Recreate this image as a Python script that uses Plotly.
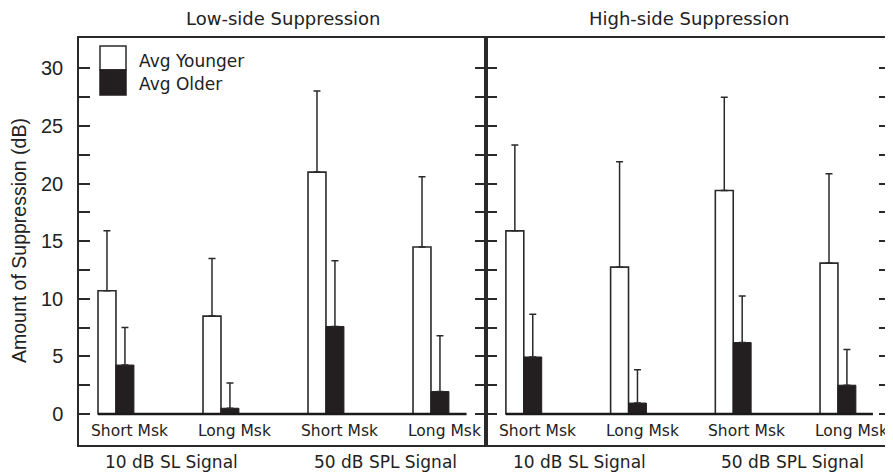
import plotly.graph_objects as go

# ---------------- data ----------------
conditions = ["Short Msk", "Long Msk", "Short Msk", "Long Msk"]
signals = ["10 dB SL Signal", "50 dB SPL Signal"]
panels = ["Low-side Suppression", "High-side Suppression"]
series_names = ["Avg Younger", "Avg Older"]

low_younger = [10.7, 8.5, 21.0, 14.5]
low_younger_err = [5.2, 5.0, 7.05, 6.1]
low_older = [4.25, 0.5, 7.6, 1.95]
low_older_err = [3.25, 2.2, 5.7, 4.85]

high_younger = [15.9, 12.75, 19.4, 13.1]
high_younger_err = [7.45, 9.15, 8.1, 7.75]
high_older = [4.95, 0.95, 6.2, 2.5]
high_older_err = [3.7, 2.9, 4.05, 3.1]

y_tick_vals = [0, 2.5, 5, 7.5, 10, 12.5, 15, 17.5, 20, 22.5, 25, 27.5, 30]
y_tick_text = ["0", "", "5", "", "10", "", "15", "", "20", "", "25", "", "30"]

# ---------------- figure ----------------
PAGE_OFF = 8              # page body margin in the browser
W, H = 893 - PAGE_OFF, 475 - PAGE_OFF
INK = "#2a2a2a"
BAR_W = 0.171

xpos = list(range(len(conditions)))

fig = go.Figure()

def add_panel(young, young_err, old, old_err, xa, ya):
    fig.add_trace(go.Bar(
        x=xpos, y=young, width=BAR_W, offset=0,
        marker=dict(color="white", line=dict(color=INK, width=1.6)),
        error_y=dict(type="data", array=young_err, arrayminus=[0] * 4,
                     symmetric=False, color=INK, thickness=1.5, width=3.5),
        xaxis=xa, yaxis=ya, showlegend=False, name=series_names[0]))
    fig.add_trace(go.Bar(
        x=xpos, y=old, width=BAR_W, offset=BAR_W,
        marker=dict(color="#231f20", line=dict(color="#231f20", width=1)),
        error_y=dict(type="data", array=old_err, arrayminus=[0] * 4,
                     symmetric=False, color=INK, thickness=1.5, width=3.5),
        xaxis=xa, yaxis=ya, showlegend=False, name=series_names[1]))

add_panel(low_younger, low_younger_err, low_older, low_older_err, "x", "y")
add_panel(high_younger, high_younger_err, high_older, high_older_err, "x2", "y2")

def px_x(p):
    return (p - PAGE_OFF) / W

def px_y(p):
    return 1 - (p - PAGE_OFF) / H

ydom = [px_y(445), px_y(38)]
yrange = [-2.69, 32.64]

xaxis_common = dict(showline=True, mirror=True, linecolor=INK, linewidth=1.5,
                    ticks="", showticklabels=False, showgrid=False, zeroline=False)
yaxis_common = dict(range=yrange, domain=ydom, showline=True, mirror="ticks",
                    linecolor=INK, linewidth=1.5, ticks="inside", ticklen=11,
                    tickwidth=1.5, tickcolor=INK, tickvals=y_tick_vals,
                    showgrid=False, zeroline=False)

fig.update_layout(
    width=W, height=H,
    margin=dict(l=0, r=0, t=0, b=0),
    paper_bgcolor="white", plot_bgcolor="white",
    font=dict(family="DejaVu Sans", color="#222"),
    barmode="overlay",
    xaxis=dict(domain=[px_x(79), px_x(486)], range=[-0.181, 3.695], **xaxis_common),
    xaxis2=dict(domain=[px_x(486), px_x(890)], range=[-0.19, 3.668], anchor="y2", **xaxis_common),
    yaxis=dict(ticktext=y_tick_text, showticklabels=True, ticklabelstandoff=10,
               tickfont=dict(family="Liberation Sans", size=20, color="#222"),
               **yaxis_common),
    yaxis2=dict(anchor="x2", showticklabels=False, **yaxis_common),
)

# baselines at zero
for xr, yr, xend in [("x", "y", 3.51), ("x2", "y2", 3.505)]:
    fig.add_shape(type="line", xref=xr, yref=yr, x0=0, x1=xend, y0=0, y1=0,
                  line=dict(color="#1a1a1a", width=2.6))

annotations = []
# condition labels under bars
for xr, yr in [("x", "y"), ("x2", "y2")]:
    for i, c in enumerate(conditions):
        annotations.append(dict(x=i + 0.3, y=px_y(431), xref=xr, yref="paper",
                                text=c, showarrow=False,
                                font=dict(size=15.5), xanchor="center", yanchor="middle"))
    for j, s in enumerate(signals):
        annotations.append(dict(x=[0.7, 2.74][j], y=px_y(462), xref=xr, yref="paper",
                                text=s, showarrow=False,
                                font=dict(size=17), xanchor="center", yanchor="middle"))

# panel titles
for t, cx in zip(panels, [282.5, 689]):
    annotations.append(dict(x=px_x(cx), y=px_y(18), xref="paper", yref="paper",
                            text=t, showarrow=False, font=dict(size=18),
                            xanchor="center", yanchor="middle"))

# y axis title
annotations.append(dict(x=px_x(19), y=px_y(241), xref="paper", yref="paper",
                        text="Amount of Suppression (dB)", showarrow=False,
                        textangle=-90,
                        font=dict(family="Liberation Sans", size=19.5, color="#222"),
                        xanchor="center", yanchor="middle"))

# legend (drawn manually to match the stacked swatch)
fig.add_shape(type="rect", xref="paper", yref="paper",
              x0=px_x(100), x1=px_x(126), y0=px_y(70), y1=px_y(46),
              fillcolor="white", line=dict(color=INK, width=1.5))
fig.add_shape(type="rect", xref="paper", yref="paper",
              x0=px_x(100), x1=px_x(126), y0=px_y(95), y1=px_y(70),
              fillcolor="#231f20", line=dict(color="#231f20", width=1.5))
for name, cy in zip(series_names, [61, 84]):
    annotations.append(dict(x=px_x(137), y=px_y(cy), xref="paper", yref="paper",
                            text=name, showarrow=False, font=dict(size=17),
                            xanchor="left", yanchor="middle"))

fig.update_layout(annotations=annotations)

fig.write_html("out.html")
